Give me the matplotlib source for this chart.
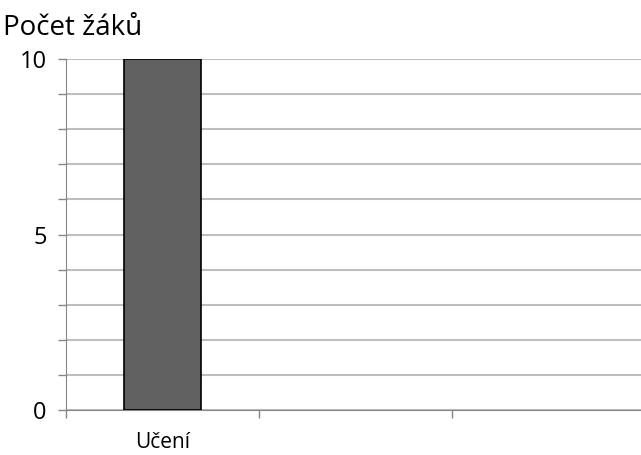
import matplotlib.pyplot as plt
import numpy as np

# Data
categories = ['Učení', '', '']
values = [10, None, None]

plt.rcParams['font.family'] = ['Open Sans', 'DejaVu Sans']

fig = plt.figure(figsize=(6.41, 4.55), dpi=100)
ax = fig.add_axes([66 / 641, 45 / 455, 579 / 641, 351 / 455])

x = np.arange(len(categories)) + 0.5
heights = [v if v is not None else 0 for v in values]
bars = ax.bar(x[:1], heights[:1], width=0.4, color='#606060', edgecolor='black',
              linewidth=1.2, zorder=3)

ax.set_xlim(0, 3)
ax.set_ylim(0, 10)

# gridlines at every unit
ax.set_yticks(range(0, 11))
ax.set_yticklabels([str(v) if v % 5 == 0 else '' for v in range(0, 11)], fontsize=17)
ax.yaxis.grid(True, color='#BEBEBE', linewidth=1.5, zorder=0)

ax.set_xticks([0, 1, 2])
ax.set_xticklabels([])
ax.set_xticks(x[:1], minor=True)
ax.set_xticklabels(categories[:1], minor=True, fontsize=15)
ax.tick_params(axis='x', which='minor', length=0, pad=16)
ax.tick_params(axis='x', which='major', length=6, color='#868686', width=1)
ax.tick_params(axis='y', length=6, color='#868686', width=1, pad=8)

for s in ['top', 'right']:
    ax.spines[s].set_visible(False)
ax.spines['left'].set_color('#868686')
ax.spines['bottom'].set_color('#868686')
ax.set_axisbelow(True)

fig.text(3 / 641, 1 - 28 / 455, 'Počet žáků', fontsize=20, va='center', ha='left')

plt.savefig('out.png', dpi=100)
